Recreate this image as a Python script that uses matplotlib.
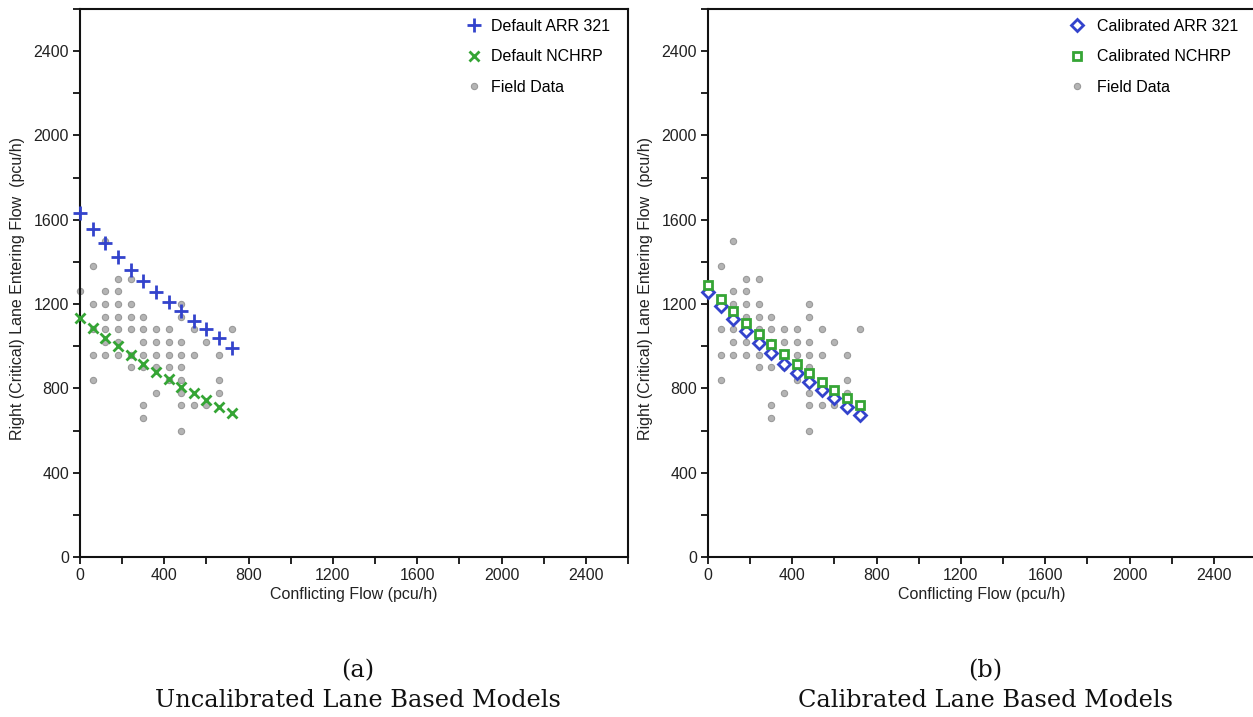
import numpy as np
import matplotlib.pyplot as plt
from matplotlib.ticker import MultipleLocator

# conflicting flow (pcu/h) at which the models were evaluated
conf_flow = [0, 60, 120, 180, 240, 300, 360, 420, 480, 540, 600, 660, 720]

# lane entry capacity (pcu/h)
default_arr = [1634, 1557, 1490, 1424, 1363, 1311, 1258, 1209, 1165, 1120, 1083, 1037, 991]
default_nchrp = [1135, 1087, 1040, 1000, 958, 917, 880, 843, 808, 776, 745, 713, 685]
calib_arr = [1258, 1190, 1130, 1071, 1016, 966, 918, 874, 832, 792, 754, 713, 674]
calib_nchrp = [1289, 1226, 1169, 1112, 1060, 1011, 964, 918, 874, 832, 792, 756, 721]

# field observations (same in both panels)
field_x = [0,
           60, 60, 60, 60, 60,
           120, 120, 120, 120, 120, 120, 120,
           180, 180, 180, 180, 180, 180, 180,
           240, 240, 240, 240, 240, 240,
           300, 300, 300, 300, 300, 300, 300,
           360, 360, 360, 360, 360,
           420, 420, 420, 420, 420,
           480, 480, 480, 480, 480, 480, 480, 480, 480,
           540, 540, 540,
           600, 600,
           660, 660, 660,
           720]
field_y = [1260,
           1380, 1200, 1080, 960, 840,
           1500, 1260, 1200, 1140, 1080, 1020, 960,
           1320, 1260, 1200, 1140, 1080, 1020, 960,
           1320, 1200, 1140, 1080, 960, 900,
           1140, 1080, 1020, 960, 900, 720, 660,
           1080, 1020, 960, 900, 780,
           1080, 1020, 960, 900, 840,
           1200, 1140, 1020, 960, 900, 840, 780, 720, 600,
           1080, 960, 720,
           1020, 720,
           960, 840, 780,
           1080]

captions = [("(a)", "Uncalibrated Lane Based Models"),
            ("(b)", "Calibrated Lane Based Models")]

blue = '#3343cc'
green = '#35a535'

plt.rcParams['font.family'] = ['Liberation Sans', 'DejaVu Sans']

fig = plt.figure(figsize=(12.53, 7.17), dpi=100)
W, H = 1253.0, 717.0
ax1 = fig.add_axes([80 / W, 1 - 557 / H, 548 / W, 548 / H])
ax2 = fig.add_axes([708 / W, 1 - 557 / H, 548 / W, 548 / H])


def style(ax):
    ax.set_xlim(0, 2600)
    ax.set_ylim(0, 2600)
    ax.xaxis.set_minor_locator(MultipleLocator(200))
    ax.yaxis.set_minor_locator(MultipleLocator(200))
    ax.set_xticks([0, 400, 800, 1200, 1600, 2000, 2400])
    ax.set_yticks([0, 400, 800, 1200, 1600, 2000, 2400])
    for s in ax.spines.values():
        s.set_linewidth(1.5)
        s.set_color('#111111')
    ax.tick_params(which='both', direction='out', length=5, width=1.3,
                   colors='#111111', labelsize=11.5, labelcolor='#222222')
    ax.tick_params(axis='y', pad=3)
    ax.tick_params(axis='x', pad=3)
    ax.set_xlabel("Conflicting Flow (pcu/h)", fontsize=11.5, color='#222222', labelpad=3)
    ax.set_ylabel("Right (Critical) Lane Entering Flow  (pcu/h)", fontsize=11.5, color='#222222')
    ax.yaxis.set_label_coords(-0.1, 0.49)


field_kw = dict(linestyle='none', marker='o', markersize=4.5,
                markerfacecolor='#b4b4b4', markeredgecolor='#9a9a9a',
                markeredgewidth=0.8, clip_on=False)
leg_kw = dict(loc='upper left', frameon=False, fontsize=11.5, borderpad=0,
              borderaxespad=0, handlelength=1.0, labelspacing=0.97)

# panel (a)
ax1.plot(field_x, field_y, label='Field Data', zorder=2, **field_kw)
ax1.plot(conf_flow, default_arr, linestyle='none', marker='+', markersize=9.5,
         markeredgewidth=2, color=blue, label='Default ARR 321', zorder=3, clip_on=False)
ax1.plot(conf_flow, default_nchrp, linestyle='none', marker='x', markersize=6.5,
         markeredgewidth=2, color=green, label='Default NCHRP', zorder=3, clip_on=False)
style(ax1)
h, l = ax1.get_legend_handles_labels()
ax1.legend([h[1], h[2], h[0]], [l[1], l[2], l[0]],
           bbox_to_anchor=((466 - 80) / 548, (557 - 19) / 548),
           handletextpad=0.56, **leg_kw)

# panel (b)
ax2.plot(field_x, field_y, label='Field Data', zorder=2, **field_kw)
ax2.plot(conf_flow, calib_arr, linestyle='none', marker='D', markersize=6,
         markeredgewidth=2, color=blue, markerfacecolor='white',
         label='Calibrated ARR 321', zorder=3, clip_on=False)
ax2.plot(conf_flow, calib_nchrp, linestyle='none', marker='s', markersize=6,
         markeredgewidth=2, color=green, markerfacecolor='white',
         label='Calibrated NCHRP', zorder=3, clip_on=False)
style(ax2)
h, l = ax2.get_legend_handles_labels()
ax2.legend([h[1], h[2], h[0]], [l[1], l[2], l[0]],
           bbox_to_anchor=((1069 - 708) / 548, (557 - 19) / 548),
           handletextpad=0.75, **leg_kw)

# captions under the panels
for xc, (tag, text) in zip([358, 985], captions):
    fig.text(xc / W, 1 - 677 / H, tag, ha='center', va='baseline',
             fontsize=17.3, family='DejaVu Serif', color='#111111')
    fig.text(xc / W, 1 - 707 / H, text, ha='center', va='baseline',
             fontsize=17.3, family='DejaVu Serif', color='#111111')

fig.savefig('out.png', dpi=100)
